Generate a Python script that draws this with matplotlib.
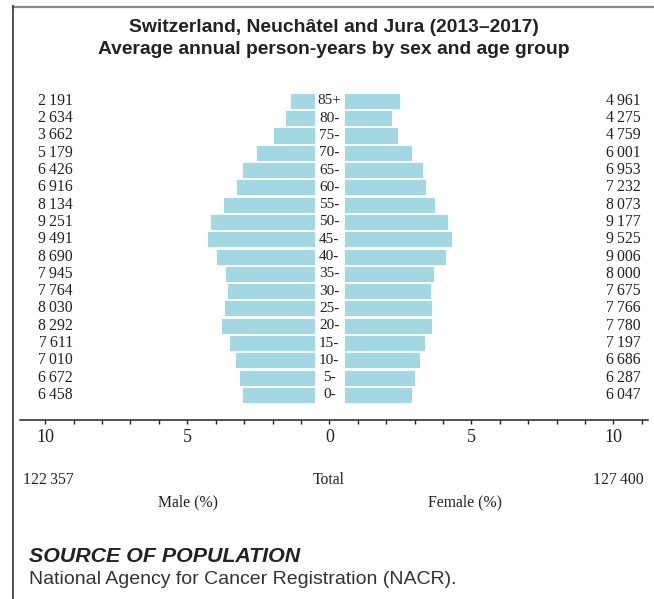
import numpy as np
import matplotlib.pyplot as plt
from matplotlib.ticker import MultipleLocator, FuncFormatter

# person-years by age group, oldest first
ages = ['85+', '80-', '75-', '70-', '65-', '60-', '55-', '50-', '45-',
        '40-', '35-', '30-', '25-', '20-', '15-', '10-', '5-', '0-']
male = [2191, 2634, 3662, 5179, 6426, 6916, 8134, 9251, 9491,
        8690, 7945, 7764, 8030, 8292, 7611, 7010, 6672, 6458]
female = [4961, 4275, 4759, 6001, 6953, 7232, 8073, 9177, 9525,
          9006, 8000, 7675, 7766, 7780, 7197, 6686, 6287, 6047]
male_total = 122357
female_total = 127400

serif = ['Liberation Serif', 'DejaVu Serif']
sans = ['Liberation Sans', 'DejaVu Sans']
bar_col = '#a3d8e3'
ink = '#222222'
gap = 0.5  # space kept free in the middle for the age labels


def fmt(n):
    return '{:,}'.format(n).replace(',', '\u2009')


W, H = 654, 599
fig = plt.figure(figsize=(W / 100, H / 100), dpi=100)

# axes placed in pixel terms
x0, x1 = 20, 648
y_top, y_bot = 90, 420
ax = fig.add_axes([x0 / W, 1 - y_bot / H, (x1 - x0) / W, (y_bot - y_top) / H])

grand = male_total + female_total
m_pct = np.array(male) / grand * 100
f_pct = np.array(female) / grand * 100
ypos = np.arange(len(ages))[::-1]

ax.barh(ypos, m_pct, left=-gap - m_pct, height=0.93, color=bar_col,
        edgecolor='white', linewidth=0.6)
ax.barh(ypos, f_pct, left=gap, height=0.93, color=bar_col,
        edgecolor='white', linewidth=0.6)

for y, a, m, f in zip(ypos, ages, male, female):
    ax.text(0, y, a, ha='center', va='center', family=serif, fontsize=11, color=ink)
    ax.text(-9.02, y, fmt(m), ha='right', va='center', family=serif, fontsize=11.3, color=ink)
    ax.text(10.97, y, fmt(f), ha='right', va='center', family=serif, fontsize=11.3, color=ink)

ax.set_xlim(-10.89, 11.22)
ax.set_ylim(-1.45, 17.63)

for s in ['top', 'left', 'right']:
    ax.spines[s].set_visible(False)
ax.spines['bottom'].set_color(ink)
ax.spines['bottom'].set_linewidth(1.1)
ax.set_yticks([])
ax.xaxis.set_major_locator(MultipleLocator(5))
ax.xaxis.set_minor_locator(MultipleLocator(1))
ax.xaxis.set_major_formatter(FuncFormatter(lambda v, p: '%d' % abs(round(v))))
ax.tick_params(axis='x', which='both', length=3, width=1, color=ink,
               direction='out', pad=3.5)
ax.tick_params(axis='x', which='major', labelsize=13, labelcolor=ink)
for lab in ax.get_xticklabels():
    lab.set_family(serif)


def px(x, y):
    return x / W, 1 - y / H


fig.text(*px(23, 480), fmt(male_total), ha='left', va='center', family=serif, fontsize=11.3, color=ink)
fig.text(*px(329, 480), 'Total', ha='center', va='center', family=serif, fontsize=11.3, color=ink)
fig.text(*px(644, 480), fmt(female_total), ha='right', va='center', family=serif, fontsize=11.3, color=ink)
fig.text(*px(188, 502), 'Male (%)', ha='center', va='center', family=serif, fontsize=11.3, color=ink)
fig.text(*px(465, 502), 'Female (%)', ha='center', va='center', family=serif, fontsize=11.3, color=ink)

fig.text(*px(334, 27), 'Switzerland, Neuchâtel and Jura (2013\u20132017)', ha='center', va='center',
         family=sans, fontsize=13.9, weight='bold', color=ink)
fig.text(*px(334, 50), 'Average annual person-years by sex and age group', ha='center', va='center',
         family=sans, fontsize=13.9, weight='bold', color=ink)

fig.text(*px(29, 557), 'SOURCE OF POPULATION', ha='left', va='center', family=sans,
         fontsize=15.4, weight='bold', style='italic', color=ink)
fig.text(*px(29, 579), 'National Agency for Cancer Registration (NACR).', ha='left', va='center',
         family=sans, fontsize=14, color='#333333')

# frame: grey rule on top, dark rule down the left side
fig.add_artist(plt.Line2D([13 / W, 1], [1 - 6.5 / H] * 2, color='#888888', lw=1.6))
fig.add_artist(plt.Line2D([13 / W] * 2, [1 - 6 / H, 0], color='#333333', lw=1.2))

fig.savefig('out.png', dpi=100)
